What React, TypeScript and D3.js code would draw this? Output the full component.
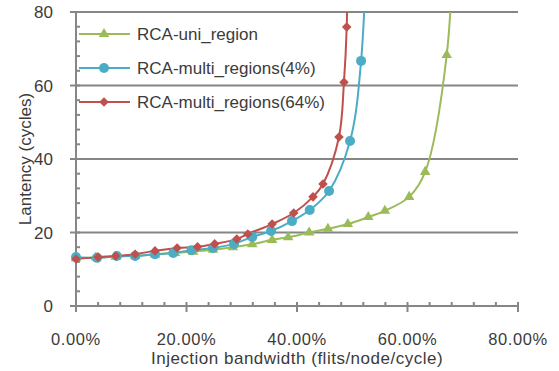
import React, { useEffect, useRef } from 'react';
import * as d3 from 'd3';

// injection bandwidth (%) and latency (cycles)
const uniX = [0, 3.6, 7.2, 10.7, 14.3, 17.9, 21.2, 24.8, 28.4, 31.9, 35.5, 38.4, 42.2, 45.6, 49.2, 52.9, 55.9, 60.3, 63.2, 67.1, 68.9];
const uniY = [13.0, 13.2, 13.4, 13.7, 14.0, 14.4, 14.8, 15.3, 16.0, 16.8, 18.0, 18.7, 20.0, 21.0, 22.3, 24.2, 25.9, 29.7, 36.5, 68.3, 125];
const multi4X = [0, 3.8, 7.4, 10.7, 14.3, 17.6, 20.9, 24.8, 28.6, 31.9, 35.3, 39.1, 42.3, 45.8, 49.6, 51.6, 53.0];
const multi4Y = [13.3, 13.1, 13.6, 13.6, 14.1, 14.4, 15.2, 15.8, 16.9, 18.8, 20.4, 23.1, 26.1, 31.3, 44.9, 66.7, 120];
const multi64X = [0, 4.0, 7.2, 10.7, 14.3, 18.3, 22.0, 25.1, 29.1, 31.1, 35.5, 39.4, 42.9, 44.7, 47.6, 48.5, 49.0, 49.3];
const multi64Y = [12.8, 13.3, 13.6, 14.1, 15.0, 15.8, 16.1, 16.9, 18.2, 19.6, 22.3, 25.3, 29.7, 33.2, 46.0, 60.9, 75.9, 110];

const seriesNames = ['RCA-uni_region', 'RCA-multi_regions(4%)', 'RCA-multi_regions(64%)'];
const seriesColors = ['#9BBB59', '#4BACC6', '#C0504D'];
const xTicks = [0, 20, 40, 60, 80];
const yTicks = [0, 20, 40, 60, 80];
const xTitle = 'Injection bandwidth (flits/node/cycle)';
const yTitle = 'Lantency (cycles)';

const W = 559;
const H = 371;
const FONT = '"Liberation Sans", Arial, sans-serif';
const TEXT = '#3b3b3b';
const GRID = '#868686';

export default function App() {
  const ref = useRef<SVGSVGElement | null>(null);

  useEffect(() => {
    const svg = d3.select(ref.current);
    svg.selectAll('*').remove();

    const x = d3.scaleLinear().domain([0, 80]).range([76, 518]);
    const y = d3.scaleLinear().domain([0, 80]).range([306, 12]);

    const series = [
      { xs: uniX, ys: uniY, sym: 'tri' },
      { xs: multi4X, ys: multi4Y, sym: 'circle' },
      { xs: multi64X, ys: multi64Y, sym: 'diamond' },
    ].map((s, i) => ({
      ...s,
      color: seriesColors[i],
      name: seriesNames[i],
      pts: s.xs.map((v, j) => [v, s.ys[j]] as [number, number]),
    }));

    svg
      .append('defs')
      .append('clipPath')
      .attr('id', 'plotclip')
      .append('rect')
      .attr('x', 70)
      .attr('y', y(80))
      .attr('width', 460)
      .attr('height', y(0) - y(80) + 10);

    // gridlines
    svg
      .append('g')
      .selectAll('line')
      .data(yTicks.filter(t => t > 0))
      .enter()
      .append('line')
      .attr('x1', x(0))
      .attr('x2', x(80))
      .attr('y1', d => y(d))
      .attr('y2', d => y(d))
      .attr('stroke', GRID)
      .attr('stroke-width', 2);

    // axes, minor ticks every 4 units pointing inwards
    const axes = svg.append('g').attr('stroke', GRID).attr('stroke-width', 2);
    axes.append('line').attr('x1', x(0)).attr('x2', x(0)).attr('y1', y(80) - 1).attr('y2', y(0) + 1);
    axes.append('line').attr('x1', x(0) - 1).attr('x2', x(80) + 1).attr('y1', y(0)).attr('y2', y(0));
    d3.range(0, 81, 4).forEach(t => {
      const major = t % 20 === 0;
      axes
        .append('line')
        .attr('x1', x(0) - (major ? 6 : 0))
        .attr('x2', x(0) + 4)
        .attr('y1', y(t))
        .attr('y2', y(t));
      axes
        .append('line')
        .attr('x1', x(t))
        .attr('x2', x(t))
        .attr('y1', y(0) - 4)
        .attr('y2', y(0) + (major ? 6 : 0));
    });

    // tick labels
    svg
      .append('g')
      .selectAll('text')
      .data(yTicks)
      .enter()
      .append('text')
      .attr('x', 53)
      .attr('y', d => y(d) + 6)
      .attr('text-anchor', 'end')
      .attr('font-size', 17)
      .text(d => d);
    svg
      .append('g')
      .selectAll('text')
      .data(xTicks)
      .enter()
      .append('text')
      .attr('x', d => x(d))
      .attr('y', 345)
      .attr('text-anchor', 'middle')
      .attr('font-size', 16.5)
      .attr('letter-spacing', 0.6)
      .text(d => d.toFixed(2) + '%');

    svg
      .append('text')
      .attr('x', 297)
      .attr('y', 364)
      .attr('text-anchor', 'middle')
      .attr('font-size', 17)
      .attr('letter-spacing', 0.5)
      .text(xTitle);
    svg
      .append('text')
      .attr('transform', `translate(31,${(y(0) + y(80)) / 2}) rotate(-90)`)
      .attr('text-anchor', 'middle')
      .attr('font-size', 17)
      .text(yTitle);

    const line = d3
      .line<[number, number]>()
      .x(d => x(d[0]))
      .y(d => y(d[1]))
      .curve(d3.curveCatmullRom);

    const drawMarker = (g: any, sym: string, color: string, cx: number, cy: number) => {
      if (sym === 'circle') {
        g.append('circle').attr('cx', cx).attr('cy', cy).attr('r', 5).attr('fill', color);
      } else if (sym === 'tri') {
        g.append('path')
          .attr('d', d3.symbol().type(d3.symbolTriangle).size(48)())
          .attr('transform', `translate(${cx},${cy})`)
          .attr('fill', color);
      } else {
        g.append('path')
          .attr('d', d3.symbol().type(d3.symbolSquare).size(46)())
          .attr('transform', `translate(${cx},${cy}) rotate(45)`)
          .attr('fill', color);
      }
    };

    const plot = svg.append('g').attr('clip-path', 'url(#plotclip)');
    series.forEach(s => {
      plot
        .append('path')
        .attr('d', line(s.pts))
        .attr('fill', 'none')
        .attr('stroke', s.color)
        .attr('stroke-width', 2);
    });
    series.forEach(s => {
      s.pts.filter(p => p[1] <= 80).forEach(p => drawMarker(plot, s.sym, s.color, x(p[0]), y(p[1])));
    });

    // legend
    const legendY = [34, 68, 102];
    series.forEach((s, i) => {
      const g = svg.append('g');
      g.append('line')
        .attr('x1', 79)
        .attr('x2', 130)
        .attr('y1', legendY[i])
        .attr('y2', legendY[i])
        .attr('stroke', s.color)
        .attr('stroke-width', 2);
      drawMarker(g, s.sym, s.color, 104, legendY[i]);
      g.append('text').attr('x', 137).attr('y', legendY[i] + 6).attr('font-size', 17).text(s.name);
    });

    svg.selectAll('text').attr('font-family', FONT).attr('fill', TEXT);
  }, []);

  return (
    <svg
      ref={ref}
      width={W}
      height={H}
      style={{ position: 'absolute', left: 0, top: 0, background: '#fff' }}
    />
  );
}
